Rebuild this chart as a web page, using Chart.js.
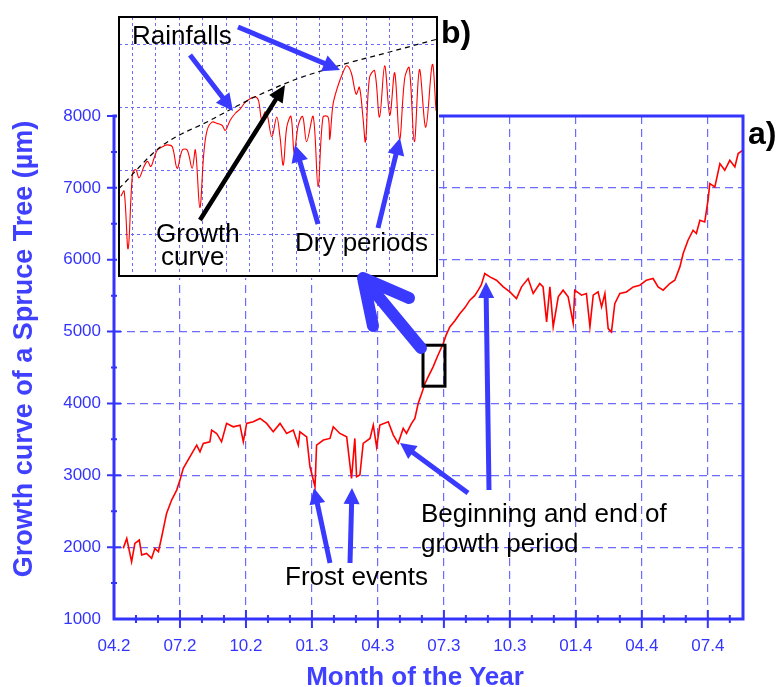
<!DOCTYPE html>
<html>
<head>
<meta charset="utf-8">
<script src="https://cdn.jsdelivr.net/npm/chart.js@4/dist/chart.umd.min.js"></script>
<style>
  body { margin: 0; background: #fff; }
  #wrap { position: relative; width: 776px; height: 687px; overflow: hidden; }
  #main { position: absolute; left: 0; top: 0; }
  #inset { position: absolute; left: 117px; top: 15px; background: #fff; }
  #notes { position: absolute; left: 0; top: 0; pointer-events: none; }
  #notes text { font-family: Arial, "Liberation Sans", Helvetica, sans-serif; }
</style>
</head>
<body>
<div id="wrap">
  <canvas id="main" width="776" height="687"></canvas>
  <canvas id="inset" width="322" height="263"></canvas>
  <svg id="notes" width="776" height="687" xmlns="http://www.w3.org/2000/svg"></svg>
</div>
<script>
// months counted from 04.2 (April, year 2)
const months = [0.42,0.58,0.80,0.95,1.15,1.26,1.48,1.71,1.86,2.02,2.17,2.39,2.62,2.85,3.0,3.15,3.45,3.76,3.91,4.06,
  4.36,4.44,4.67,4.89,5.12,5.42,5.73,5.88,6.03,6.33,6.64,6.94,7.24,7.55,7.85,8.15,8.38,8.45,8.76,8.91,
  9.14,9.21,9.52,9.82,9.97,10.27,10.58,10.80,10.95,11.03,11.18,11.33,11.64,11.79,11.94,12.09,12.47,12.70,12.92,13.15,
  13.30,13.53,13.68,13.83,13.99,14.14,14.30,14.51,14.70,14.97,15.10,15.27,15.50,15.73,15.95,16.18,16.40,16.56,16.70,16.86,
  17.09,17.39,17.70,18.0,18.30,18.53,18.83,19.06,19.36,19.51,19.67,19.82,19.97,20.20,20.42,20.65,20.88,20.95,21.26,21.48,
  21.64,21.79,22.01,22.17,22.32,22.47,22.62,22.77,23.0,23.30,23.61,23.91,24.21,24.51,24.74,24.97,25.27,25.5,25.73,25.88,
  26.1,26.33,26.48,26.64,26.86,27.01,27.09,27.32,27.55,27.77,28.0,28.23,28.38,28.58];
const growth = [1983,2122,1797,2053,2099,1890,1913,1844,1983,1936,2145,2470,2655,2794,2933,3096,3257,3420,3327,3444,
  3466,3629,3582,3466,3722,3675,3698,3466,3722,3744,3791,3722,3605,3722,3582,3629,3420,3605,3535,3118,
  2840,3420,3490,3513,3675,3582,3535,2957,3513,2979,3003,3444,3513,3698,3396,3698,3744,3559,3444,3652,
  3582,3722,3791,3999,4139,4278,4380,4509,4650,4834,4950,5065,5150,5252,5330,5437,5500,5576,5650,5808,
  5761,5715,5622,5552,5460,5622,5738,5530,5669,5622,5135,5622,5065,5483,5576,5483,5112,5576,5506,5530,
  5065,5506,5552,5343,5530,5042,4995,5388,5530,5552,5622,5645,5715,5738,5622,5576,5669,5715,5900,6086,
  6271,6410,6364,6549,6526,6828,7060,7013,7337,7245,7384,7291,7477,7523];
const tickMonths = [0,3,6,9,12,15,18,21,24,27];
const tickLabels = ['04.2','07.2','10.2','01.3','04.3','07.3','10.3','01.4','04.4','07.4'];
const zoomWindow = [14.05, 15.05, 4240, 4810]; // month from, month to, µm from, µm to

// inset b): detail of the zoom window, in grid units
const insetX = [-0.50,-0.36,-0.19,0.0,0.14,0.28,0.49,0.64,0.78,0.92,1.06,1.28,1.49,1.70,1.91,2.13,2.34,2.55,2.69,2.88,
  3.05,3.19,3.40,3.62,3.83,3.97,4.18,4.40,4.61,4.82,5.03,5.25,5.39,5.53,5.67,5.77,5.96,6.17,6.31,6.45,
  6.60,6.78,6.92,7.09,7.28,7.45,7.73,7.94,8.15,8.37,8.44,8.58,8.79,9.00,9.17,9.36,9.57,9.71,9.86,9.97,
  10.14,10.36,10.57,10.79,11.01,11.22,11.43,11.65,11.84,12.06,12.28,12.55,12.83,12.99];
const insetY = [1.60,1.68,0.77,1.96,2.02,1.89,2.07,2.15,2.07,2.20,2.33,2.38,2.41,2.38,2.04,2.33,2.33,2.04,2.33,1.42,
  2.28,2.64,2.77,2.75,2.72,2.64,2.80,2.91,2.98,3.08,3.14,3.17,3.11,2.80,2.93,2.88,2.54,2.85,2.54,2.09,
  2.69,2.86,2.28,2.72,2.86,2.46,2.86,1.75,2.85,2.85,2.50,3.05,3.34,3.55,3.66,3.55,3.21,3.32,2.85,2.46,
  3.47,3.58,2.85,3.66,2.88,3.55,2.50,3.47,3.63,2.46,3.60,2.69,3.68,2.95];
const curveX = [-0.58,1.20,3.33,5.25,7.02,9.0,11.13,13.03];
const curveY = [1.72,2.38,2.80,3.17,3.45,3.68,3.89,4.08];

const BLUE = '#3434ff';
const GRID = '#6b6bff';
const FONT = 'Arial, "Liberation Sans", Helvetica, sans-serif';

const frame = {
  id: 'frame',
  afterDraw(chart) {
    const {ctx, chartArea: a, scales: {x, y}} = chart;
    ctx.save();
    ctx.strokeStyle = BLUE;
    ctx.lineWidth = 3;
    ctx.strokeRect(a.left, a.top, a.right - a.left, a.bottom - a.top);
    ctx.lineWidth = 2;
    ctx.beginPath();
    for (let m = 1; m <= x.max; m++) {
      const px = x.getPixelForValue(m);
      const len = m % 3 === 0 ? 9 : 4;
      ctx.moveTo(px, a.bottom - len); ctx.lineTo(px, a.bottom + len);
    }
    for (let v = y.min + 500; v <= y.max; v += 500) {
      const py = y.getPixelForValue(v);
      const len = v % 1000 === 0 ? 7 : 3;
      ctx.moveTo(a.left - len, py); ctx.lineTo(a.left + len, py);
    }
    ctx.stroke();
    // window shown enlarged in b)
    const [m0, m1, v0, v1] = zoomWindow;
    const x0 = x.getPixelForValue(m0), x1 = x.getPixelForValue(m1);
    const y0 = y.getPixelForValue(v1), y1 = y.getPixelForValue(v0);
    ctx.strokeStyle = '#000';
    ctx.lineWidth = 3;
    ctx.strokeRect(x0, y0, x1 - x0, y1 - y0);
    ctx.restore();
  }
};

new Chart(document.getElementById('main'), {
  type: 'line',
  data: {
    datasets: [{
      data: months.map((m, i) => ({x: m, y: growth[i]})),
      borderColor: '#ff0000', borderWidth: 1.6, pointRadius: 0, tension: 0
    }]
  },
  options: {
    responsive: false, animation: false,
    layout: { padding: { top: 116, right: 33, left: 0, bottom: 0 } },
    plugins: { legend: { display: false }, tooltip: { enabled: false } },
    scales: {
      x: {
        type: 'linear', min: 0, max: 28.6,
        afterBuildTicks: s => { s.ticks = tickMonths.map(v => ({value: v})); },
        afterFit: s => { s.height = 68; },
        ticks: { callback: (v, i) => tickLabels[i], color: BLUE, font: { size: 17, family: FONT }, padding: 17, maxRotation: 0, autoSkip: false },
        grid: { color: GRID, lineWidth: 1.2, drawTicks: false },
        border: { display: false, dash: [8, 5] }
      },
      y: {
        type: 'linear', min: 1000, max: 8000,
        afterFit: s => { s.width = 114; },
        ticks: { stepSize: 1000, callback: v => String(v), color: BLUE, font: { size: 17, family: FONT }, padding: 13 },
        grid: { color: GRID, lineWidth: 1.2, drawTicks: false },
        border: { display: false, dash: [8, 5] }
      }
    }
  },
  plugins: [frame]
});

const insetFrame = {
  id: 'insetFrame',
  afterDraw(chart) {
    const {ctx, chartArea: a} = chart;
    ctx.save();
    ctx.strokeStyle = '#000';
    ctx.lineWidth = 2;
    ctx.strokeRect(a.left, a.top, a.right - a.left, a.bottom - a.top);
    ctx.restore();
  }
};

new Chart(document.getElementById('inset'), {
  type: 'line',
  data: {
    datasets: [
      { data: curveX.map((v, i) => ({x: v, y: curveY[i]})), borderColor: '#000', borderWidth: 1.2,
        borderDash: [5, 4], pointRadius: 0, cubicInterpolationMode: 'monotone' },
      { data: insetX.map((v, i) => ({x: v, y: insetY[i]})), borderColor: '#ff0000', borderWidth: 1.1,
        pointRadius: 0, tension: 0.35 }
    ]
  },
  options: {
    responsive: false, animation: false,
    layout: { padding: 2 },
    plugins: { legend: { display: false }, tooltip: { enabled: false } },
    scales: {
      x: {
        type: 'linear', min: -0.58, max: 13.03,
        afterBuildTicks: s => { s.ticks = [0,1,2,3,4,5,6,7,8,9,10,11,12].map(v => ({value: v})); },
        afterFit: s => { s.height = 0; },
        ticks: { display: false },
        grid: { color: '#6a6aff', lineWidth: 1, drawTicks: false },
        border: { display: false, dash: [3, 3] }
      },
      y: {
        type: 'linear', min: 0.34, max: 4.43,
        afterBuildTicks: s => { s.ticks = [1,2,3,4].map(v => ({value: v})); },
        afterFit: s => { s.width = 0; },
        ticks: { display: false },
        grid: { color: '#6a6aff', lineWidth: 1, drawTicks: false },
        border: { display: false, dash: [3, 3] }
      }
    }
  },
  plugins: [insetFrame]
});

// annotations: arrows and labels
const svg = document.getElementById('notes');
const NS = 'http://www.w3.org/2000/svg';
function add(tag, attrs, txt) {
  const el = document.createElementNS(NS, tag);
  for (const k in attrs) el.setAttribute(k, attrs[k]);
  if (txt) el.textContent = txt;
  svg.appendChild(el);
  return el;
}
function arrow(x1, y1, x2, y2, w, hl, hw, color) {
  const dx = x2 - x1, dy = y2 - y1, L = Math.hypot(dx, dy);
  const ux = dx / L, uy = dy / L, nx = -uy, ny = ux;
  const bx = x2 - ux * hl, by = y2 - uy * hl;
  const pts = [
    [x1 + nx * w / 2, y1 + ny * w / 2], [bx + nx * w / 2, by + ny * w / 2], [bx + nx * hw / 2, by + ny * hw / 2],
    [x2, y2], [bx - nx * hw / 2, by - ny * hw / 2], [bx - nx * w / 2, by - ny * w / 2], [x1 - nx * w / 2, y1 - ny * w / 2]
  ];
  add('polygon', { points: pts.map(p => p.map(n => n.toFixed(1)).join(',')).join(' '), fill: color });
}
const AB = '#3a3aff';
arrow(190, 55, 233, 111, 5, 17, 17, AB);
arrow(238, 27, 340, 70, 5, 17, 17, AB);
arrow(200, 220, 285, 85, 4.5, 17, 16, '#000');
arrow(318, 224, 295, 145, 5, 17, 17, AB);
arrow(378, 228, 400, 138, 5, 17, 17, AB);
arrow(330, 563, 314, 488, 5, 16, 16, AB);
arrow(350, 563, 352, 488, 5, 16, 16, AB);
arrow(468, 493, 400, 443, 5, 16, 16, AB);
arrow(489, 490, 486, 282, 5, 16, 16, AB);
// big arrow from the zoom window to the inset
add('path', { d: 'M421,348 L363,278 M373,326 L363,278 L409,298', stroke: AB, 'stroke-width': 12,
  'stroke-linecap': 'round', 'stroke-linejoin': 'round', fill: 'none' });

const T = { 'font-size': 26, fill: '#000' };
add('text', { ...T, x: 132, y: 44 }, 'Rainfalls');
add('text', { ...T, x: 156, y: 242 }, 'Growth');
add('text', { ...T, x: 161, y: 265 }, 'curve');
add('text', { ...T, x: 295, y: 251 }, 'Dry periods');
add('text', { ...T, x: 285, y: 585 }, 'Frost events');
add('text', { ...T, x: 421, y: 522 }, 'Beginning and end of');
add('text', { ...T, x: 421, y: 552 }, 'growth period');
add('text', { 'font-size': 32, 'font-weight': 'bold', fill: '#000', x: 441, y: 43 }, 'b)');
add('text', { 'font-size': 32, 'font-weight': 'bold', fill: '#000', x: 748, y: 144 }, 'a)');
add('text', { 'font-size': 26, 'font-weight': 'bold', fill: '#4040ff', x: 415, y: 685, 'text-anchor': 'middle' }, 'Month of the Year');
add('text', { 'font-size': 27, 'font-weight': 'bold', fill: '#4040ff', x: 0, y: 0, 'text-anchor': 'middle',
  transform: 'translate(32,349) rotate(-90)' }, 'Growth curve of a Spruce Tree (µm)');
</script>
</body>
</html>
